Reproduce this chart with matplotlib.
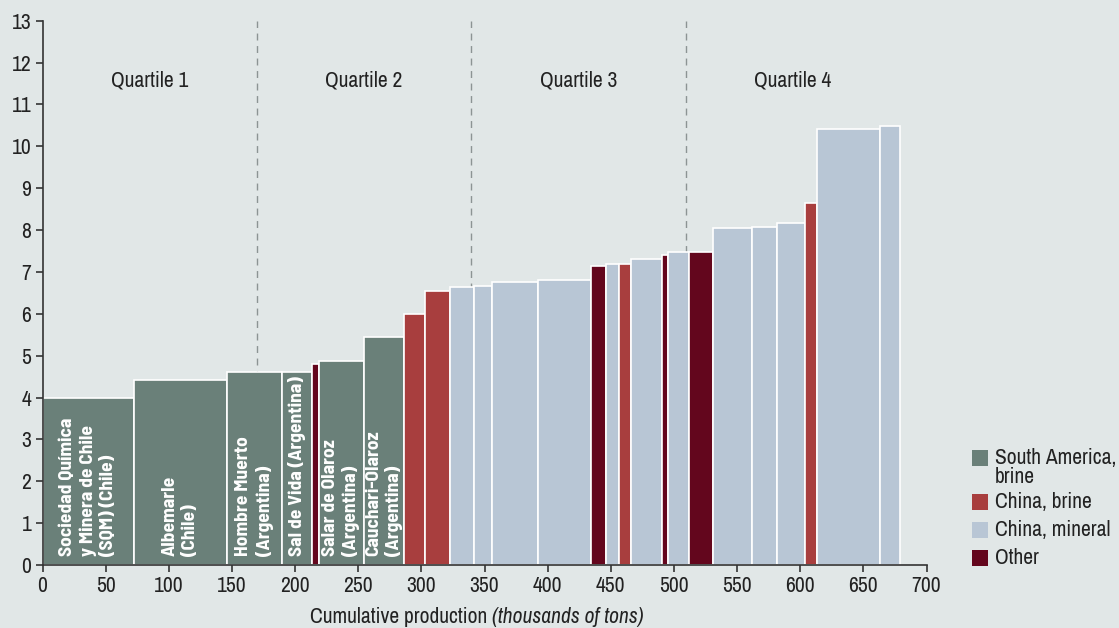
import matplotlib
matplotlib.use("Agg")
import matplotlib.pyplot as plt
import numpy as np
from matplotlib.patches import Rectangle

# cumulative cost curve data (thousands of tons, cost per unit)
widths = [72.6, 73.5, 43.5, 24.0, 5.0, 35.6, 32.4, 16.6, 19.7, 19.0, 14.0, 36.8, 41.9,
          11.6, 10.1, 9.9, 24.1, 4.7, 17.1, 18.5, 31.1, 19.7, 22.2, 9.7, 49.6, 16.0]
heights = [4.0, 4.43, 4.6, 4.6, 4.81, 4.87, 5.45, 6.0, 6.54, 6.65, 6.67, 6.76, 6.81,
           7.15, 7.18, 7.19, 7.31, 7.40, 7.47, 7.47, 8.05, 8.08, 8.17, 8.65, 10.41, 10.48]
groups = ['sa', 'sa', 'sa', 'sa', 'other', 'sa', 'sa', 'cb', 'cb', 'cm', 'cm', 'cm', 'cm',
          'other', 'cm', 'cb', 'cm', 'other', 'cm', 'other', 'cm', 'cm', 'cm', 'cb', 'cm', 'cm']

bar_labels = {
    0: "Sociedad Química\ny Minera de Chile\n(SQM) (Chile)",
    1: "Albemarle\n(Chile)",
    2: "Hombre Muerto\n(Argentina)",
    3: "Sal de Vida (Argentina)",
    5: "Salar de Olaroz\n(Argentina)",
    6: "Cauchari-Olaroz\n(Argentina)",
}

colors = {'sa': '#6a8079', 'cb': '#a83e3e', 'cm': '#b8c6d5', 'other': '#63061d'}
legend_names = [('sa', 'South America,\nbrine'), ('cb', 'China, brine'),
                ('cm', 'China, mineral'), ('other', 'Other')]
quartile_names = ['Quartile 1', 'Quartile 2', 'Quartile 3', 'Quartile 4']

bg = '#e1e7e7'
txt = '#222222'
fam = ['Archivo Narrow', 'DejaVu Sans']
bold_fam = ['Barlow Semi Condensed', 'Archivo Narrow', 'DejaVu Sans']
plt.rcParams['font.family'] = fam
fs = 15.5

fig = plt.figure(figsize=(11.19, 6.28), dpi=100, facecolor=bg)
ax = fig.add_axes([0.038, 0.1003, 0.79, 0.8667])
ax.set_facecolor(bg)

lefts = np.concatenate([[0], np.cumsum(widths)[:-1]])
total = sum(widths)

# quartile separators
for q in range(1, 4):
    ax.axvline(total * q / 4, color='#8c9494', linestyle=(0, (5, 4)), linewidth=1, zorder=1)
for q in range(4):
    ax.text(total * (q + 0.5) / 4, 11.57, quartile_names[q], ha='center', va='center',
            fontsize=fs, color=txt)

ax.bar(lefts, heights, width=widths, align='edge',
       color=[colors[g] for g in groups], edgecolor='white', linewidth=1.2, zorder=2)

for i, lab in bar_labels.items():
    ax.text(lefts[i] + widths[i] / 2, 0.22, lab, rotation=90, ha='center', va='bottom',
            multialignment='left', color='white', fontsize=14, fontweight='bold',
            family=bold_fam, linespacing=1.25, zorder=3)

ax.set_xlim(0, 700)
ax.set_ylim(0, 13)
ax.set_xticks(np.arange(0, 701, 50))
ax.set_yticks(np.arange(0, 14, 1))
for s in ['top', 'right']:
    ax.spines[s].set_visible(False)
for s in ['left', 'bottom']:
    ax.spines[s].set_color('#333333')
    ax.spines[s].set_linewidth(1.2)
ax.tick_params(colors='#333333', labelcolor=txt, labelsize=fs, length=5, width=1.2, pad=3)

fig.text(0.4395, 0.002, 'Cumulative production ', ha='right', va='bottom', fontsize=fs, color=txt)
fig.text(0.4395, 0.002, '(thousands of tons)', ha='left', va='bottom', fontsize=fs,
         color=txt, style='italic')

# legend, drawn by hand at the right
leg_y = [458, 502, 530, 558]
for (k, name), yc in zip(legend_names, leg_y):
    fig.patches.append(Rectangle((972 / 1119, 1 - (yc + 8) / 628), 16 / 1119, 16 / 628,
                                 transform=fig.transFigure, facecolor=colors[k], edgecolor='none'))
    fig.text(995 / 1119, 1 - (yc - 10) / 628, name, ha='left', va='top', fontsize=fs,
             color=txt, linespacing=0.92)

fig.savefig('out.png', dpi=100, facecolor=bg)
